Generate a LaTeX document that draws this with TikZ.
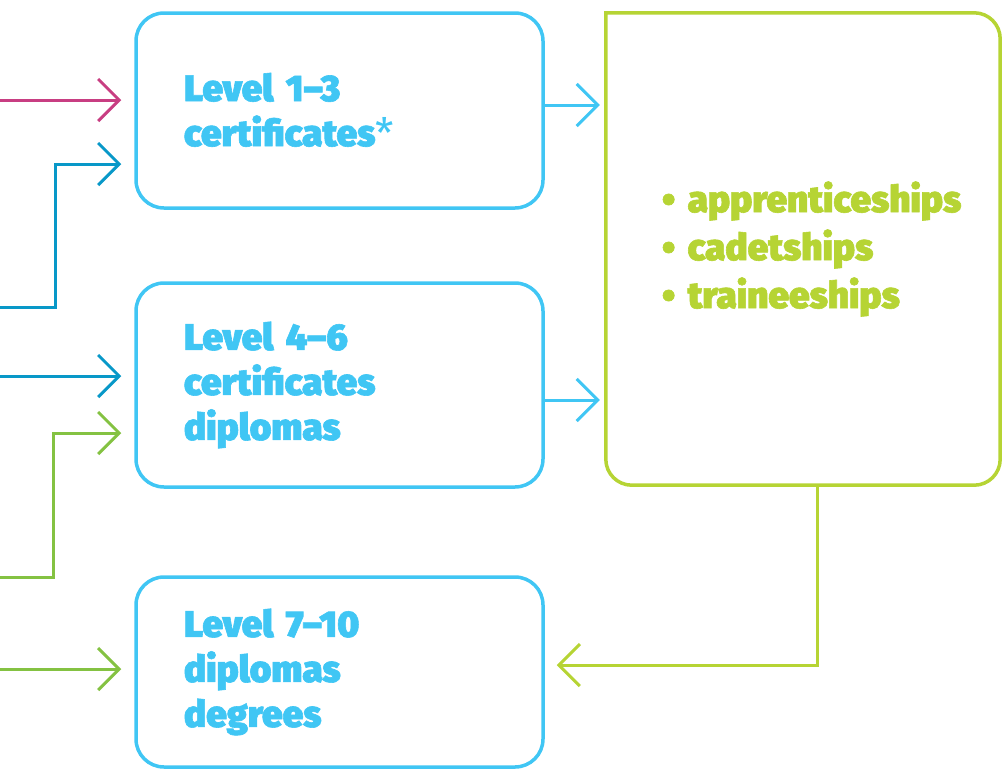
\documentclass[tikz,border=0pt]{standalone}
\usepackage{fontspec}
\setmainfont{Fira Sans}
\newfontfamily\heavyfont{Fira Sans Black}[FakeBold=1.6]
\usetikzlibrary{arrows.meta}

\definecolor{skyblue}{RGB}{64,198,244}
\definecolor{deepblue}{RGB}{8,152,200}
\definecolor{rosepink}{RGB}{200,62,130}
\definecolor{leafgreen}{RGB}{132,194,66}
\definecolor{limegreen}{RGB}{182,212,52}

\tikzset{
  levelbox/.style={draw=skyblue, line width=3.5pt, rounded corners=28pt, minimum width=407pt, text width=311pt, inner xsep=48pt, align=left, text=skyblue, font=\heavyfont\fontsize{37}{45}\selectfont},
  feed/.style={line width=3pt, -{Straight Barb[length=21pt,width=42pt]}, shorten >=13pt},
}

\begin{document}
\begin{tikzpicture}[x=1pt, y=-1pt]
\useasboundingbox (0,0) rectangle (1002,769);
\node[levelbox, minimum height=195pt] (cert) at (339.5,110.5) {Level 1–3\\certificates{\normalfont\fontsize{42}{45}\selectfont\raisebox{-2pt}{*}}};
\node[levelbox, minimum height=204pt] (dipl) at (339.5,385) {Level 4–6\\certificates\\diplomas};
\node[levelbox, minimum height=190pt] (degr) at (339.5,672) {Level 7–10\\diplomas\\degrees};
\node[minimum width=394pt, minimum height=472pt, text width=282pt, inner xsep=56pt, align=left, text=limegreen, font=\heavyfont\fontsize{37}{48}\selectfont] (work) at (803,249) {\mbox{• apprenticeships}\\• cadetships\\• traineeships};
\draw[limegreen, line width=3.5pt, rounded corners=26pt, line cap=rect] (work.north west) -- (work.north east) -- (work.south east) -- (work.south west) -- (work.north west);

% left inputs
\coordinate (pinkin) at (0,100);
\coordinate (bluein) at (0,307);
\coordinate (bluein2) at (0,376);
\coordinate (greenin) at (0,577);
\coordinate (greenin2) at (0,669);
\draw[feed, rosepink] (pinkin) -- (pinkin -| cert.west);
\draw[feed, deepblue] (bluein) -- ++(55,0) |- (cert.west |- 0,164);
\draw[feed, deepblue] (bluein2) -- (bluein2 -| dipl.west);
\draw[feed, leafgreen] (greenin) -- ++(53,0) |- (dipl.west |- 0,433);
\draw[feed, leafgreen] (greenin2) -- (greenin2 -| degr.west);

% to and from the right box
\draw[feed, skyblue, shorten >=6pt] (cert.east |- 0,105) -- (work.west |- 0,105);
\draw[feed, skyblue, shorten >=6pt] (dipl.east |- 0,400) -- (work.west |- 0,400);
\draw[feed, limegreen, shorten >=12pt] ([xshift=14pt]work.south) |- (degr.east |- 0,665);
\end{tikzpicture}
\end{document}
